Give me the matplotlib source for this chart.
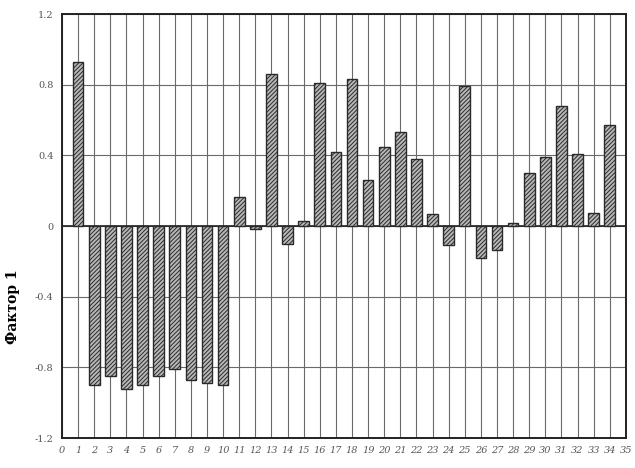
import numpy as np
import matplotlib
matplotlib.use("Agg")
import matplotlib.pyplot as plt

# factor loadings, items 1..34
items = list(range(1, 35))
factor1 = [0.93, -0.90, -0.85, -0.92, -0.90, -0.85, -0.81, -0.87, -0.89, -0.90,
           0.165, -0.015, 0.86, -0.10, 0.03, 0.81, 0.42, 0.83, 0.26, 0.45,
           0.53, 0.38, 0.07, -0.11, 0.79, -0.18, -0.135, 0.02, 0.30, 0.39,
           0.68, 0.41, 0.075, 0.57]
yticks = [-1.2, -0.8, -0.4, 0, 0.4, 0.8, 1.2]
ylabels = ["-1.2", "-0.8", "-0.4", "0", "0.4", "0.8", "1.2"]
xticks = list(range(0, 36))

plt.rcParams['hatch.linewidth'] = 0.7
fig = plt.figure(figsize=(6.35, 4.68), dpi=100)
ax = fig.add_axes([0.0976, 0.064, 0.888, 0.906])

ax.set_axisbelow(True)
ax.grid(True, color="#6a6a6a", linewidth=0.8)
ax.bar(items, factor1, width=0.66, facecolor="#b8b8b8", edgecolor="#2a2a2a",
       hatch="////////", linewidth=1.0, zorder=3)
ax.axhline(0, color="#222222", linewidth=1.2, zorder=2)

ax.set_xlim(0, 35)
ax.set_ylim(-1.2, 1.2)
ax.set_xticks(xticks)
ax.set_xticklabels([str(t) for t in xticks], fontsize=7, family="DejaVu Serif",
                   style="italic", color="#555555")
ax.set_yticks(yticks)
ax.set_yticklabels(ylabels, fontsize=7, family="DejaVu Serif", color="#555555")
ax.tick_params(length=0, pad=6)
for s in ax.spines.values():
    s.set_linewidth(1.4)
    s.set_color("#222222")

ax.set_ylabel("Фактор 1", fontsize=10, family="DejaVu Serif", fontweight="bold")
ax.yaxis.set_label_coords(-0.074, 0.31)

plt.savefig("out.png", dpi=100)
